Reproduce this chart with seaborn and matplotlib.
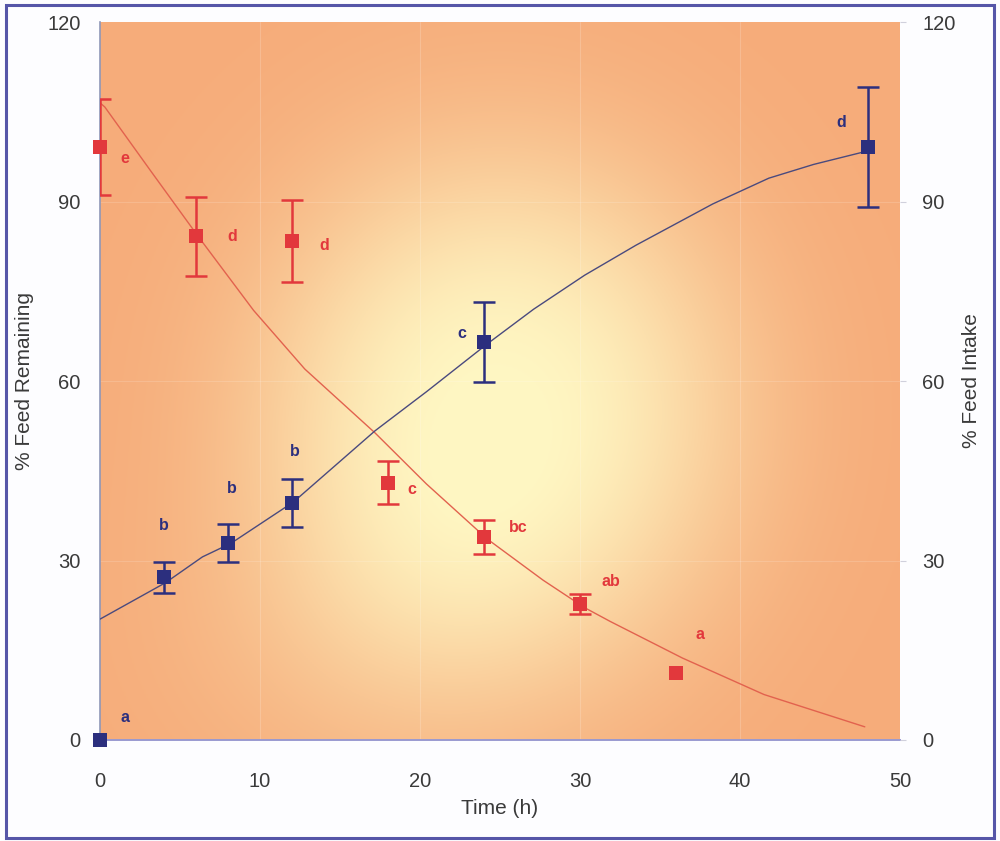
import numpy as np
import matplotlib
matplotlib.use("Agg")
import matplotlib.pyplot as plt
import seaborn as sns
from matplotlib.patches import Rectangle

# --- measured points (time in h, percent) ---
remain_time = [0, 6, 12, 18, 24, 30, 36]
remain_mean = [99.1, 84.2, 83.4, 43.0, 33.9, 22.7, 11.2]
remain_err = [8.0, 6.6, 6.8, 3.6, 2.8, 1.7, 0.0]
remain_letters = ["e", "d", "d", "c", "bc", "ab", "a"]

intake_time = [0, 4, 8, 12, 24, 48]
intake_mean = [0.0, 27.2, 32.9, 39.6, 66.5, 99.1]
intake_err = [0.0, 2.6, 3.2, 4.0, 6.7, 10.0]
intake_letters = ["a", "b", "b", "b", "c", "d"]

# --- fitted trend curves ---
remain_curve_t = [0, 0.3, 3.2, 6.1, 9.6, 12.8, 17.2, 20.4, 24.2, 27.7, 30.3, 31.9, 36.4, 41.5, 47.8]
remain_curve_v = [106.5, 105.8, 95.0, 84.3, 71.8, 62.0, 51.3, 42.8, 33.6, 26.7, 22.1, 19.8, 13.7, 7.6, 2.2]
intake_curve_t = [0, 4.1, 6.4, 8.2, 12.1, 17.2, 20.4, 24.2, 27.1, 30.3, 33.5, 38.3, 41.8, 44.6, 48.2]
intake_curve_v = [20.2, 26.3, 30.6, 32.9, 39.8, 51.7, 58.2, 66.2, 72.0, 77.7, 82.7, 89.6, 93.9, 96.2, 98.6]

x_ticks = [0, 10, 20, 30, 40, 50]
y_ticks = [0, 30, 60, 90, 120]

RED = "#e2383c"
RED_LINE = "#e2624e"
NAVY = "#2c2f7e"
NAVY_LINE = "#4a4a7e"
TEXT = "#3a3a3a"

sns.set_style("white")
plt.rcParams["font.family"] = ["Liberation Sans", "DejaVu Sans"]

fig = plt.figure(figsize=(10, 8.41), dpi=100)
fig.patch.set_facecolor("#fdfdff")
ax = fig.add_axes([0.1, 0.1201, 0.8, 0.8537])

# warm gradient backdrop with a broad pale yellow glow
nu, nv = 400, 360
u = np.linspace(0, 1, nu)[None, :]
v = np.linspace(0, 1, nv)[:, None]
r2 = ((u - 0.50) / 0.30) ** 2 + ((v - 0.46) / 0.36) ** 2
glow = np.exp(-r2 ** 1.3)
glow = glow + 0.22 * np.exp(-((u - 0.35) / 0.25) ** 2 - ((v - 0.15) / 0.22) ** 2)
glow = np.clip(glow, 0, 1) * 0.95
orange = np.array([246, 172, 122]) / 255.0
yellow = np.array([255, 250, 198]) / 255.0
img = orange[None, None, :] * (1 - glow[..., None]) + yellow[None, None, :] * glow[..., None]
ax.imshow(img, extent=[0, 50, 0, 120], origin="lower", aspect="auto", zorder=0)

# faint grid
for gx in x_ticks[1:-1]:
    ax.axvline(gx, color="white", lw=0.8, alpha=0.18, zorder=1)
for gy in y_ticks[1:-1]:
    ax.axhline(gy, color="white", lw=0.8, alpha=0.15, zorder=1)

ax.set_xlim(0, 50)
ax.set_ylim(0, 120)

# trend curves
sns.lineplot(x=remain_curve_t, y=remain_curve_v, ax=ax, color=RED_LINE, lw=1.0,
             sort=False, zorder=3)
sns.lineplot(x=intake_curve_t, y=intake_curve_v, ax=ax, color=NAVY_LINE, lw=1.0,
             sort=False, zorder=3)

# error bars (only where a spread was measured)
def draw_err(ts, ms, es, col):
    idx = [i for i, e in enumerate(es) if e > 0]
    ax.errorbar([ts[i] for i in idx], [ms[i] for i in idx], yerr=[es[i] for i in idx],
                fmt="none", ecolor=col, elinewidth=1.8, capsize=8, capthick=1.8, zorder=4)

draw_err(remain_time, remain_mean, remain_err, RED)
draw_err(intake_time, intake_mean, intake_err, NAVY)

# square markers
sns.scatterplot(x=remain_time, y=remain_mean, ax=ax, marker="s", s=90, color=RED,
                edgecolor=RED, linewidth=0, zorder=5, clip_on=False)
sns.scatterplot(x=intake_time, y=intake_mean, ax=ax, marker="s", s=90, color=NAVY,
                edgecolor=NAVY, linewidth=0, zorder=5, clip_on=False)

# significance letters (offsets in points)
remain_offsets = [(18, -8), (26, 0), (23, -3), (17, -5), (25, 7), (22, 16), (17, 28)]
intake_offsets = [(18, 16), (0, 37), (3, 39), (2, 37), (-16, 6), (-19, 18)]
for t, m, lab, off in zip(remain_time, remain_mean, remain_letters, remain_offsets):
    ax.annotate(lab, (t, m), xytext=off, textcoords="offset points", color=RED,
                fontsize=11.5, fontweight="bold", ha="center", va="center", zorder=6)
for t, m, lab, off in zip(intake_time, intake_mean, intake_letters, intake_offsets):
    ax.annotate(lab, (t, m), xytext=off, textcoords="offset points", color=NAVY,
                fontsize=11.5, fontweight="bold", ha="center", va="center", zorder=6)

# axes styling
for side in ["top", "right"]:
    ax.spines[side].set_visible(False)
ax.spines["left"].set_color("#8f97b8")
ax.spines["bottom"].set_color("#9a9ad0")
ax.spines["left"].set_linewidth(1.2)
ax.spines["bottom"].set_linewidth(1.4)

ax.set_xticks(x_ticks)
ax.set_yticks(y_ticks)
ax.set_xticklabels([str(t) for t in x_ticks])
ax.set_yticklabels([str(t) for t in y_ticks])
ax.tick_params(axis="x", length=4, color="#c8c8d8", pad=19, labelsize=14.5, labelcolor=TEXT)
ax.tick_params(axis="y", length=0, pad=14, labelsize=14.5, labelcolor=TEXT)
ax.set_xlabel("Time (h)", fontsize=15, color=TEXT)
ax.xaxis.set_label_coords(0.5, -0.082)
ax.set_ylabel("% Feed Remaining", fontsize=15, color=TEXT)
ax.yaxis.set_label_coords(-0.082, 0.5)

ax2 = ax.twinx()
ax2.set_ylim(0, 120)
ax2.set_yticks(y_ticks)
ax2.set_yticklabels([str(t) for t in y_ticks])
for side in ["top", "right", "left", "bottom"]:
    ax2.spines[side].set_visible(False)
ax2.tick_params(axis="y", length=4, color="#d0d0dc", pad=12, labelsize=14.5, labelcolor=TEXT)
ax2.set_ylabel("% Feed Intake", fontsize=15, color=TEXT, rotation=90)
ax2.yaxis.set_label_coords(1.077, 0.5)

# outer frame
fig.patches.append(Rectangle((0.006, 0.004), 0.988, 0.99, transform=fig.transFigure,
                             fill=False, edgecolor="#5656a8", linewidth=2.2))

fig.savefig("out.png", dpi=100)
